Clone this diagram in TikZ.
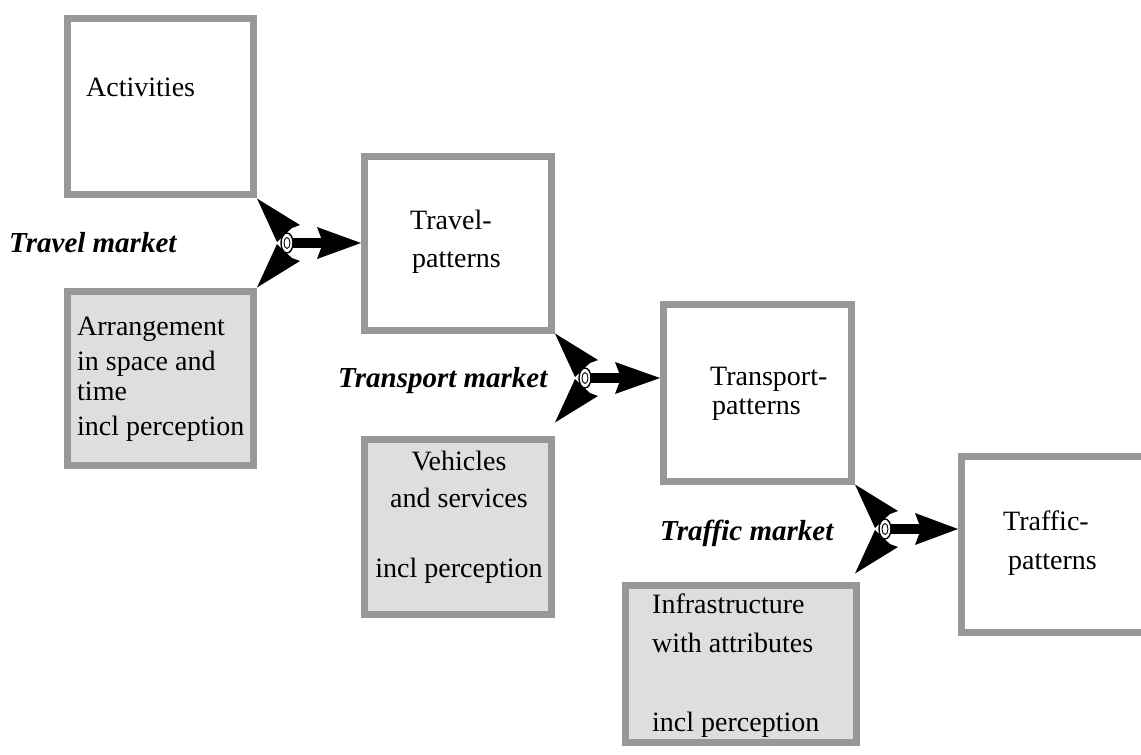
\documentclass[tikz,border=0pt]{standalone}
\usepackage{fontspec}
\setmainfont{Liberation Serif}
\usetikzlibrary{calc}
\definecolor{edgegray}{RGB}{152,152,152}
\definecolor{panelgray}{RGB}{222,222,222}
\tikzset{
  box/.style={draw=edgegray, line width=7pt, fill=white, inner sep=0pt, rectangle},
  greybox/.style={box, fill=panelgray},
  txt/.style={inner sep=0pt, anchor=base west, font=\fontsize{28}{33}\selectfont},
  ctxt/.style={inner sep=0pt, anchor=base, font=\fontsize{28}{33}\selectfont},
  mkt/.style={inner sep=0pt, anchor=base west, font=\fontsize{29}{34}\selectfont\bfseries\itshape},
}
% #1 = junction coordinate (corner x, centre y), #2 = target node
\newcommand\mktarrow[2]{%
  \fill ($(#1)+(30,-5)$) rectangle ($(#1)+(66,5)$);
  \begin{scope}[shift={(#1)}]
    \fill (0,-44.5) -- (43,-18) -- (35,-15) -- (26,-7) -- (20,-1) -- cycle;
    \fill (0,44.5) -- (43,18) -- (35,15) -- (26,7) -- (20,1) -- cycle;
    \filldraw[fill=white, draw=black, line width=1.4pt] (30,0) ellipse [x radius=6, y radius=10];
    \draw[black, line width=0.9pt] (30,0) ellipse [x radius=3, y radius=5.5];
  \end{scope}
  \fill ($(#2.west |- #1)$) -- ($(#1)+(60,-16)$) -- ($(#1)+(66,0)$) -- ($(#1)+(60,16)$) -- cycle;
}
\begin{document}
\begin{tikzpicture}[x=1pt, y=-1pt]
  \useasboundingbox (0,0) rectangle (1141,755);
  \clip (0,0) rectangle (1141,755);
  \fill[white] (0,0) rectangle (1141,755);

  % boxes
  \node[box, minimum width=186pt, minimum height=176pt] (act) at (160.5,106.5) {};
  \node[greybox, minimum width=186pt, minimum height=174pt] (arr) at (160.5,378.5) {};
  \node[box, minimum width=187pt, minimum height=174pt] (trav) at (458,243.5) {};
  \node[greybox, minimum width=187pt, minimum height=175pt] (veh) at (458,527) {};
  \node[box, minimum width=188pt, minimum height=177pt] (tpat) at (757.5,393) {};
  \node[greybox, minimum width=231pt, minimum height=157pt] (infra) at (741,664) {};
  \node[box, minimum width=195pt, minimum height=176pt] (traf) at (1059,544.5) {};

  % box texts
  \node[txt] (t-act) at (86,96) {Activities};
  \node[txt] (t-arr1) at (77,335) {Arrangement};
  \node[txt] (t-arr2) at (77,370) {in space and};
  \node[txt] (t-arr3) at (77,400) {time};
  \node[txt] (t-arr4) at (77,435) {incl perception};
  \node[txt] (t-trav1) at (410,229) {Travel-};
  \node[txt] (t-trav2) at (412,267) {patterns};
  \node[ctxt] (t-veh1) at (459,470) {Vehicles};
  \node[ctxt] (t-veh2) at (459,507) {and services};
  \node[ctxt] (t-veh3) at (459,577) {incl perception};
  \node[txt] (t-tpat1) at (710,385) {Transport-};
  \node[txt] (t-tpat2) at (712,414) {patterns};
  \node[txt] (t-inf1) at (652,613) {Infrastructure};
  \node[txt] (t-inf2) at (652,652) {with attributes};
  \node[txt] (t-inf3) at (652,731) {incl perception};
  \node[txt] (t-traf1) at (1003,530) {Traffic-};
  \node[txt] (t-traf2) at (1008,569) {patterns};

  % market labels
  \node[mkt] (m-travel) at (9,252) {Travel market};
  \node[mkt] (m-transport) at (338,387) {Transport market};
  \node[mkt] (m-traffic) at (660,540) {Traffic market};

  % junctions
  \coordinate (j1) at ($(act.south east)!0.5!(arr.north east)$);
  \coordinate (j2) at ($(trav.south east)+(0,44)$);
  \coordinate (j3) at ($(tpat.south east)+(0,44)$);

  \mktarrow{j1}{trav}
  \mktarrow{j2}{tpat}
  \mktarrow{j3}{traf}
\end{tikzpicture}
\end{document}
